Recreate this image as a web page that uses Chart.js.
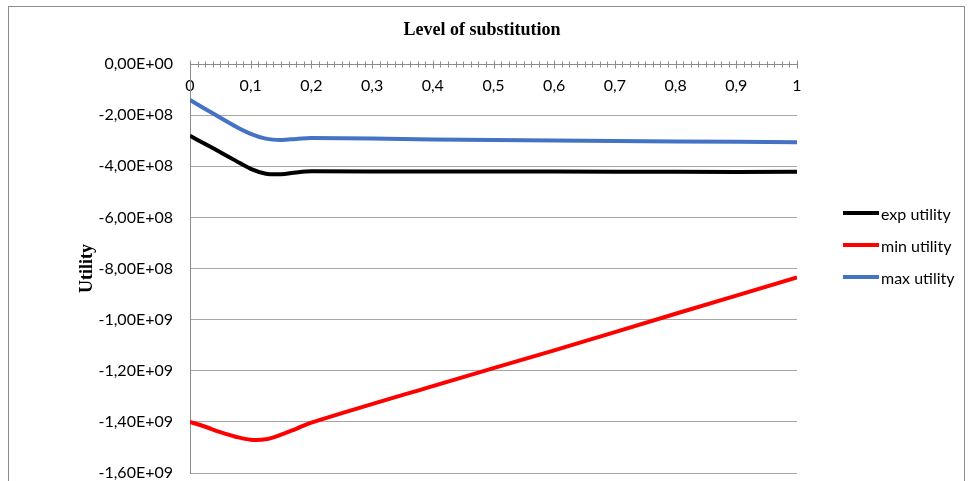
<!DOCTYPE html>
<html><head><meta charset="utf-8">
<script src="https://cdn.jsdelivr.net/npm/chart.js@4"></script>
<style>
html,body{margin:0;padding:0;background:#fff;}
#wrap{position:relative;width:968px;height:481px;overflow:hidden;}
#frame{position:absolute;left:8px;top:6px;width:955px;height:480px;border:1px solid #8c8c8c;pointer-events:none;}
canvas{position:absolute;left:0;top:0;}
#legend{position:absolute;left:843px;top:197px;font-family:Lato,"Open Sans",sans-serif;font-size:16px;color:#000;}
.item{height:32px;display:flex;align-items:center;white-space:nowrap;}
.swatch{width:36px;height:4px;margin-right:2px;}
</style>
</head><body>
<div id="wrap">
<canvas id="c" width="968" height="481"></canvas>
<div id="frame"></div>
<div id="legend"></div>
</div>
<script>
const xValues    = [0, 0.025, 0.05, 0.075, 0.1, 0.125, 0.15, 0.175, 0.2, 0.4, 0.6, 0.8, 1];
const expUtility = [-2.81e8, -3.13e8, -3.45e8, -3.78e8, -4.10e8, -4.29e8, -4.31e8, -4.24e8, -4.20e8, -4.21e8, -4.21e8, -4.22e8, -4.22e8];
const minUtility = [-1.40e9, -1.419e9, -1.44e9, -1.458e9, -1.47e9, -1.468e9, -1.45e9, -1.427e9, -1.403e9, -1.26e9, -1.12e9, -9.77e8, -8.35e8];
const maxUtility = [-1.41e8, -1.76e8, -2.10e8, -2.44e8, -2.73e8, -2.92e8, -2.97e8, -2.93e8, -2.89e8, -2.95e8, -2.99e8, -3.03e8, -3.06e8];
const seriesNames  = ['exp utility', 'min utility', 'max utility'];
const seriesColors = ['#000000', '#ff0000', '#4472c4'];
const chartTitle = 'Level of substitution';
const yTitle = 'Utility';

function pts(arr){ return xValues.map((x,i)=>({x:x, y:arr[i]})); }
function formatE(v){
  if (v === 0) return '0,00E+00';
  const sign = v < 0 ? '-' : '';
  const a = Math.abs(v);
  let e = Math.floor(Math.log10(a));
  let m = a / Math.pow(10, e);
  if (m >= 9.995) { m /= 10; e++; }
  return sign + m.toFixed(2).replace('.', ',') + 'E+' + String(e).padStart(2, '0');
}
function formatX(v){
  const r = Math.round(v * 10) / 10;
  return String(r).replace('.', ',');
}

const tickPlugin = {
  id: 'xticks',
  afterDraw(chart){
    const s = chart.scales.x;
    const y = Math.round(chart.scales.y.getPixelForValue(0)) + 0.5;
    const ctx = chart.ctx;
    ctx.save();
    ctx.strokeStyle = '#8c8c8c';
    ctx.lineWidth = 1;
    for (let i = 0; i <= 80; i++){
      const px = Math.round(s.getPixelForValue(i / 80)) + 0.5;
      const len = (i % 8 === 0) ? 4 : 3;
      ctx.beginPath();
      ctx.moveTo(px, y - len);
      ctx.lineTo(px, y + len);
      ctx.stroke();
    }
    ctx.restore();
  }
};

const allSeries = [expUtility, minUtility, maxUtility];
const datasets = allSeries.map((arr, i) => ({
  label: seriesNames[i],
  data: pts(arr),
  borderColor: seriesColors[i],
  backgroundColor: seriesColors[i],
  borderWidth: 4,
  pointRadius: 0,
  tension: 0.35,
  fill: false,
  yAxisID: 'y'
}));

new Chart(document.getElementById('c'), {
  type: 'line',
  data: { datasets },
  plugins: [tickPlugin],
  options: {
    responsive: false,
    animation: false,
    devicePixelRatio: 1,
    layout: { padding: { left: 0, right: 4, top: 0, bottom: 0 } },
    plugins: {
      legend: { display: false },
      tooltip: { enabled: false },
      title: {
        display: true,
        text: chartTitle,
        color: '#000',
        font: { family: 'Liberation Serif', weight: 'bold', size: 18 },
        padding: { top: 20, bottom: 22.4 }
      }
    },
    scales: {
      x: {
        type: 'linear',
        axis: 'x',
        min: 0, max: 1,
        position: { y: 0 },
        grid: { display: false, drawTicks: false },
        border: { display: true, color: '#8c8c8c', width: 1 },
        ticks: {
          stepSize: 0.1,
          padding: 12,
          color: '#000',
          maxRotation: 0,
          autoSkip: false,
          font: { family: 'Lato', size: 16 },
          callback: (v) => formatX(v)
        },
        afterFit: (scale) => { scale.height = 0; }
      },
      y: {
        type: 'linear',
        position: 'left',
        min: -1.6e9, max: 0,
        grid: { color: '#a6a6a6', drawTicks: false },
        border: { display: true, color: '#8c8c8c', width: 1 },
        ticks: {
          stepSize: 2e8,
          padding: 17,
          color: '#000',
          font: { family: 'Lato', size: 16 },
          callback: (v) => formatE(v)
        },
        title: {
          display: true,
          text: yTitle,
          color: '#000',
          font: { family: 'Liberation Serif', weight: 'bold', size: 18 },
          padding: { top: 77, bottom: 0 }
        },
        afterFit: (scale) => { scale.width = 190; scale.paddingTop = 8; scale.paddingBottom = 8; }
      },
      spacer: {
        type: 'linear',
        position: 'right',
        display: true,
        grid: { display: false, drawTicks: false },
        border: { display: false },
        ticks: { display: false, padding: 0 },
        afterFit: (scale) => { scale.width = 167; scale.paddingTop = 0; scale.paddingBottom = 0; }
      }
    }
  }
});

const leg = document.getElementById('legend');
seriesNames.forEach((n, i) => {
  const d = document.createElement('div');
  d.className = 'item';
  const sw = document.createElement('span');
  sw.className = 'swatch';
  sw.style.background = seriesColors[i];
  const t = document.createElement('span');
  t.textContent = n;
  d.appendChild(sw); d.appendChild(t);
  leg.appendChild(d);
});
</script>
</body></html>
